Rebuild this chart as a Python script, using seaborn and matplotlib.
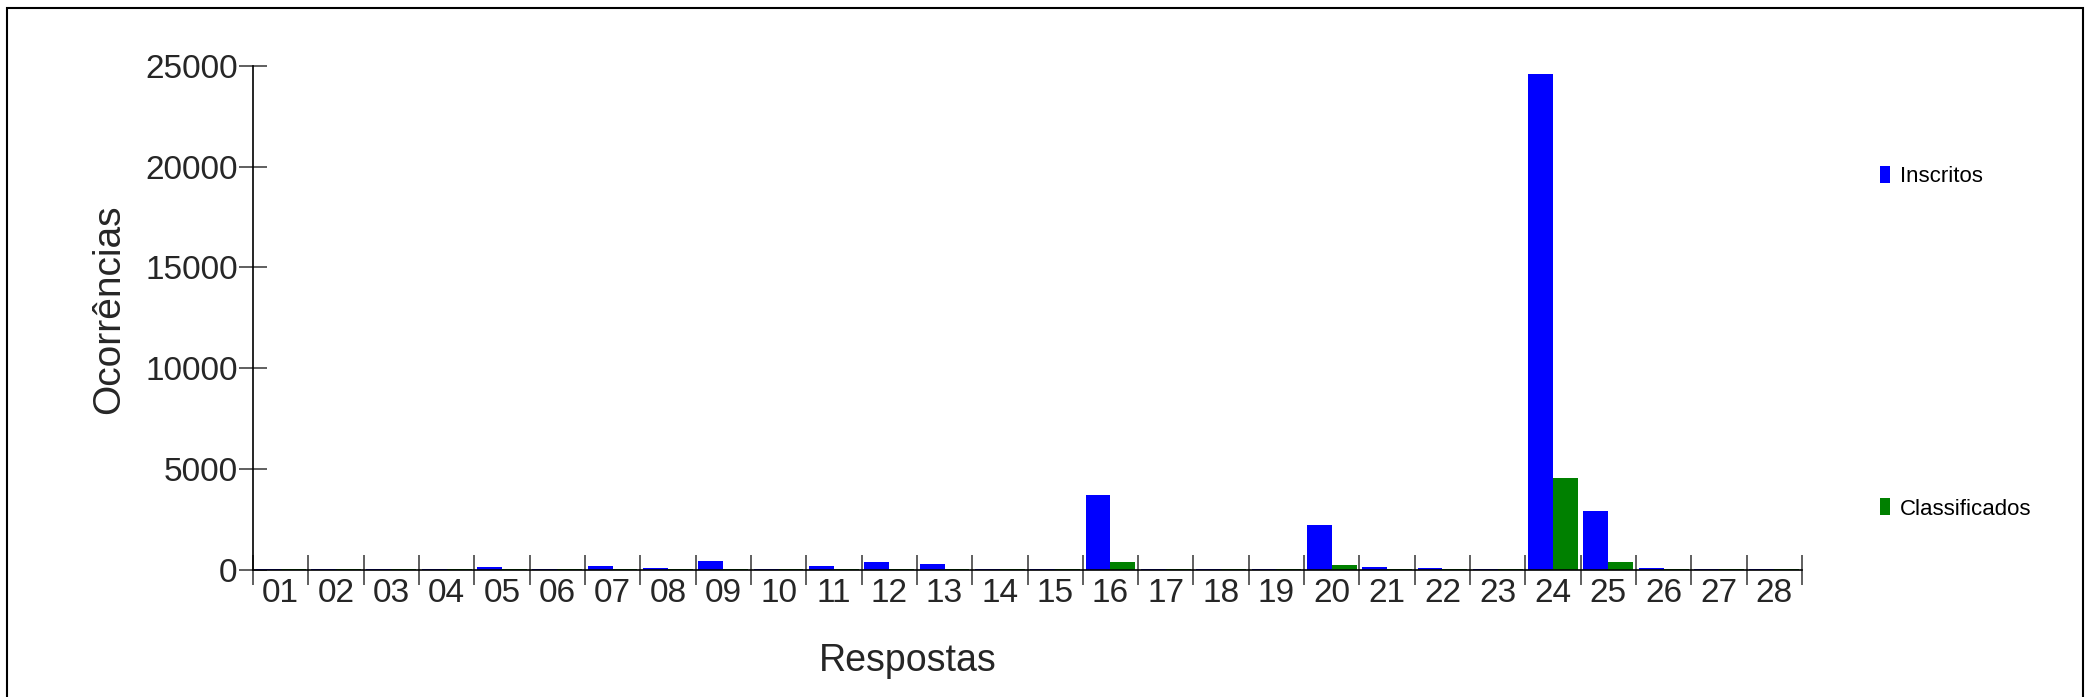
import numpy as np
import pandas as pd
from matplotlib import pyplot as plt
from matplotlib.patches import Rectangle
import seaborn as sns

# Data
respostas = ["01", "02", "03", "04", "05", "06", "07", "08", "09", "10",
             "11", "12", "13", "14", "15", "16", "17", "18", "19", "20",
             "21", "22", "23", "24", "25", "26", "27", "28"]
inscritos = [20, 20, 15, 25, 125, 25, 180, 70, 410, 20,
             195, 355, 285, 15, 15, 3680, 20, 15, 15, 2200,
             115, 65, 15, 24600, 2900, 65, 35, 15]
classificados = [2, 2, 2, 3, 20, 3, 25, 15, 30, 2,
                 20, 15, 20, 2, 2, 360, 3, 2, 2, 235,
                 15, 10, 3, 4560, 390, 10, 5, 2]
series = ["Inscritos", "Classificados"]
colors = ["#0000ff", "#008000"]
yticks = [0, 5000, 10000, 15000, 20000, 25000]

df = pd.DataFrame({
    "Respostas": respostas * 2,
    "Ocorrencias": inscritos + classificados,
    "Serie": [series[0]] * len(respostas) + [series[1]] * len(respostas),
})

sns.set_theme(style="white")
plt.rcParams['font.family'] = ['Liberation Sans', 'DejaVu Sans']
plt.rc('text', color='#000000')

W, H = 2087, 697
fig = plt.figure(figsize=(W / 100, H / 100), dpi=100)
ax = fig.add_axes([253 / W, 1 - 569.5 / H, (1802 - 253) / W, (569.5 - 66) / H])

sns.barplot(data=df, x="Respostas", y="Ocorrencias", hue="Serie", hue_order=series,
            palette=colors, width=0.9, saturation=1, linewidth=0, ax=ax, legend=False)

ax.set_ylim(0, 25000)
ax.set_xlim(-0.5, len(respostas) - 0.5)
ax.set_yticks(yticks)
ax.set_xticks(np.arange(-0.5, len(respostas), 1), minor=True)
ax.tick_params(axis='x', which='major', length=0, labelsize=24, pad=6)
ax.tick_params(axis='x', which='minor', bottom=True, direction='inout', length=22,
               width=1.2, color='#444444')
ax.tick_params(axis='y', direction='inout', length=20, width=1.2, color='#444444',
               labelsize=24, pad=1, left=True)
for s in ['top', 'right']:
    ax.spines[s].set_visible(False)
for s in ['left', 'bottom']:
    ax.spines[s].set_color('#000000')
    ax.spines[s].set_linewidth(1.2)

ax.set_xlabel("Respostas", fontsize=27, va='center')
ax.set_ylabel("Ocorrências", fontsize=28, va='center')
ax.xaxis.set_label_coords(0.423, -0.182)
ax.yaxis.set_label_coords(-0.093, 0.517)

handles = [Rectangle((0, 0), 1, 1, facecolor=c, edgecolor='none') for c in colors]
fig.legend(handles, series, loc='upper left', bbox_to_anchor=(1880 / W, 1 - 166 / H),
           frameon=False, fontsize=16, borderpad=0, borderaxespad=0,
           handlelength=0.45, handleheight=0.8, handletextpad=0.45, labelspacing=14)

# outer frame
fig.patches.append(Rectangle((7 / W, -0.1), (2083 - 7) / W, 1.1 - 8 / H,
                             transform=fig.transFigure, fill=False,
                             edgecolor='#000000', linewidth=1.5))

fig.savefig('out.png', dpi=100)
